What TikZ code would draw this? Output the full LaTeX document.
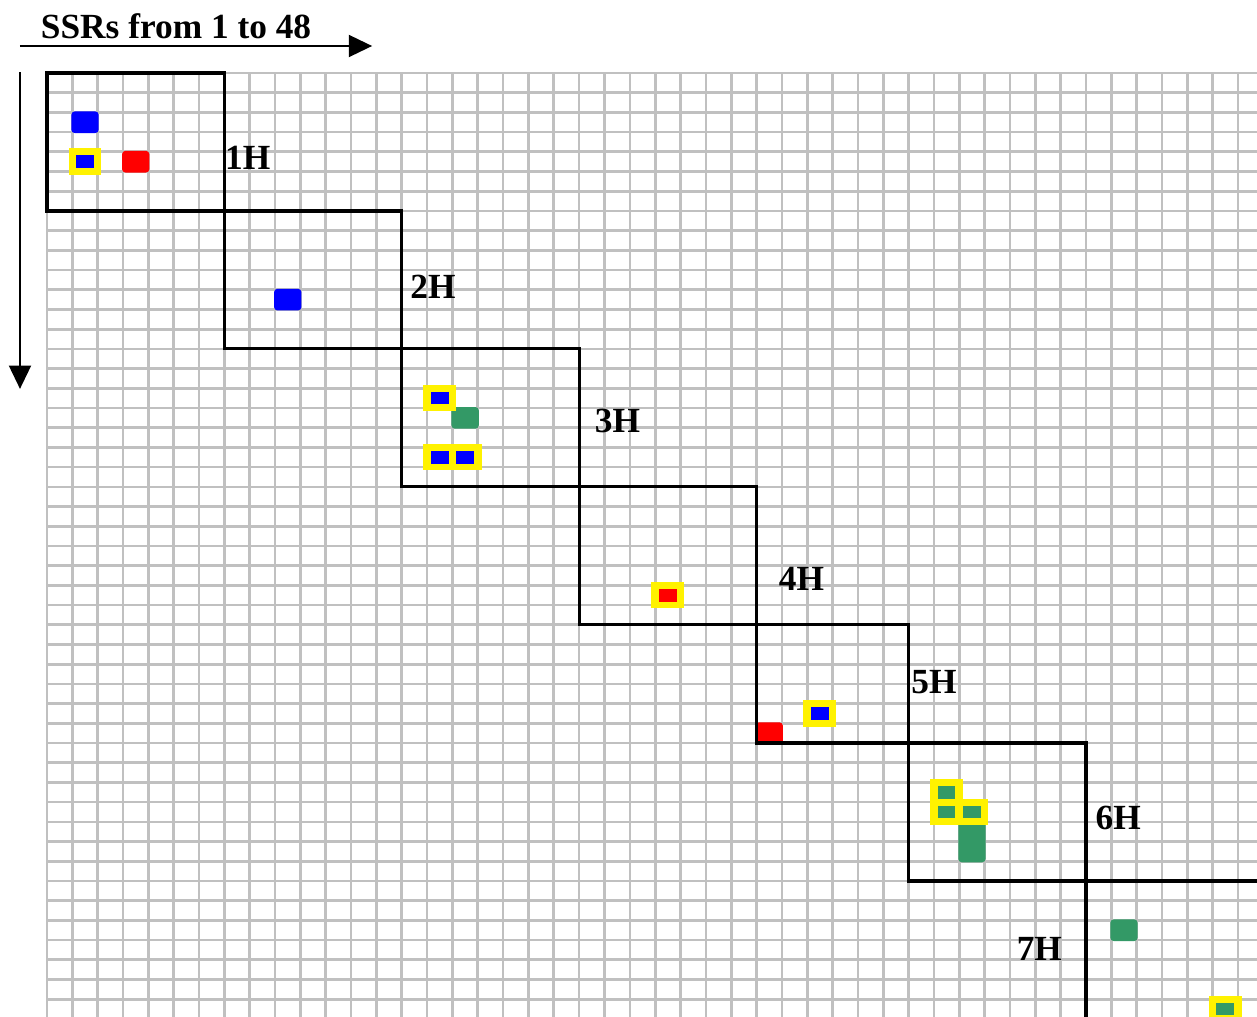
\documentclass[tikz,border=0pt]{standalone}
\usepackage{fontspec}
\setmainfont{Liberation Serif}
\usetikzlibrary{arrows.meta,positioning}
\definecolor{ssrgreen}{RGB}{51,153,102}
\definecolor{gridgray}{RGB}{192,192,192}

\begin{document}
\begin{tikzpicture}[x=19.005pt,y=-14.78pt,
    gridline/.style={gridgray,line width=2pt},
    blockline/.style={black,line width=2.4pt},
    ssr/.style={line width=1.5pt,rounded corners=2pt},
    hlabel/.style={font=\fontsize{26.5}{30}\selectfont\bfseries,inner sep=0pt,anchor=west},
    axis/.style={line width=1.5pt,-{Triangle[length=17.5pt,width=16.5pt]}}]
       \useasboundingbox (-1.855,-3.704) rectangle (47.75,47.89);
       \clip (-1.855,-3.704) rectangle (47.75,47.89);

       \foreach \i in {0,...,48} {
         \draw[gridline] (\i,0) -- (\i,48);
         \draw[gridline] (0,\i) -- (48,\i);
       }

       \foreach \c/\r/\col in {1/2/blue,3/4/red,9/11/blue,16/17/ssrgreen,28/33/red,42/43/ssrgreen}
         \filldraw[ssr,\col] (\c,\r) rectangle +(1,1);
       \filldraw[ssr,ssrgreen] (36,38) rectangle +(1,2);

       \foreach \c/\r in {1/4,15/16,15/19,16/19,30/32,24/26,35/36,35/37,36/37,46/47}
         \fill[yellow] (\c-0.15,\r-0.17) rectangle (\c+1.15,\r+1.17);
       \foreach \c/\r/\col in {1/4/blue,15/16/blue,15/19/blue,16/19/blue,30/32/blue,24/26/red,
                              35/36/ssrgreen,35/37/ssrgreen,36/37/ssrgreen,46/47/ssrgreen}
         \fill[\col] (\c+0.15,\r+0.18) rectangle (\c+0.85,\r+0.82);

       \foreach \a/\b in {0/7,7/14,14/21,21/28,28/34,34/41,41/48}
         \draw[blockline] (\a,\a) rectangle (\b,\b);

       \node[hlabel] (h1) at (7.02,4.29) {1H};
       \node[hlabel] (h2) at (14.33,10.83) {2H};
       \node[hlabel] (h3) at (21.61,17.66) {3H};
       \node[hlabel] (h4) at (28.87,25.67) {4H};
       \node[hlabel] (h5) at (34.10,30.90) {5H};
       \node[hlabel] (h6) at (41.37,37.78) {6H};
       \node[hlabel] (h7) at (38.26,44.44) {7H};

       \node[hlabel,anchor=base west] (title) at (-0.25,-1.74) {SSRs from 1 to 48};
       \coordinate (hstart) at (-1.066,-1.37);
       \coordinate (hend) at (12.83,-1.37);
       \coordinate (vstart) at (-1.066,-0.05);
       \coordinate (vend) at (-1.066,16.03);

       \draw[axis] (hstart) -- (hend);
       \draw[axis] (vstart) -- (vend);
    \end{tikzpicture}
\end{document}
